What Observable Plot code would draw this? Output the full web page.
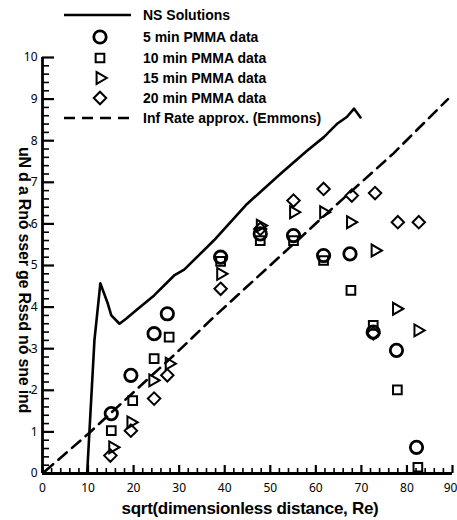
<!DOCTYPE html>
<html>
<head>
<meta charset="utf-8">
<script src="https://cdn.jsdelivr.net/npm/d3@7"></script>
<script src="https://cdn.jsdelivr.net/npm/@observablehq/plot@0.6"></script>
<style>
  body { margin: 0; background: #fff; }
</style>
</head>
<body>
<div id="chart"></div>
<script>
// Navier–Stokes solution curve
const nsX = [9.8, 11.4, 12.7, 14.35, 15.1, 16.9, 18.35, 20.5, 24.5, 28.9, 31.1, 37.6, 44.9, 52.2, 58.0, 61.7, 64.6, 66.8, 68.4, 69.8];
const nsY = [0, 3.2, 4.57, 4.08, 3.8, 3.6, 3.72, 3.92, 4.28, 4.76, 4.9, 5.6, 6.48, 7.2, 7.75, 8.08, 8.4, 8.57, 8.77, 8.56];

// Infinite-rate approximation (Emmons)
const emX = [0.5, 10, 29.6, 37.6, 63.9, 77, 89];
const emY = [0.05, 0.95, 2.92, 3.76, 6.4, 7.69, 9.0];

// PMMA measurements
const pmma5X = [15.1, 19.4, 24.5, 27.4, 39.1, 47.8, 55.1, 61.7, 67.5, 72.6, 77.7, 82.1];
const pmma5Y = [1.44, 2.36, 3.36, 3.84, 5.2, 5.76, 5.72, 5.24, 5.28, 3.4, 2.96, 0.63];
const pmma10X = [15.1, 19.8, 24.5, 27.8, 39.1, 47.8, 55.1, 61.7, 67.7, 72.6, 77.9, 82.4];
const pmma10Y = [1.03, 1.75, 2.76, 3.28, 5.1, 5.6, 5.6, 5.12, 4.4, 3.56, 2.01, 0.15];
const pmma15X = [15.4, 19.4, 24.2, 27.8, 39.1, 47.8, 55.1, 61.7, 67.6, 73.0, 77.7, 82.4];
const pmma15Y = [0.63, 1.23, 2.24, 2.64, 4.8, 5.96, 6.28, 6.28, 6.04, 5.36, 3.96, 3.44];
const pmma20X = [14.9, 19.4, 24.5, 27.4, 39.1, 47.8, 55.1, 61.7, 67.9, 72.6, 73.0, 78.0, 82.6];
const pmma20Y = [0.43, 1.03, 1.8, 2.36, 4.44, 5.88, 6.56, 6.84, 6.68, 3.37, 6.74, 6.04, 6.04];

// Axis ticks and labels
const xMajor = [0, 10, 20, 30, 40, 50, 60, 70, 80, 90];
const yMajor = [0, 1, 2, 3, 4, 5, 6, 7, 8, 9, 10];
const xMinor = [2, 4, 6, 8, 12, 14, 16, 18, 22, 24, 26, 28, 32, 34, 36, 38, 42, 44, 46, 48,
  52, 54, 56, 58, 62, 64, 66, 68, 72, 74, 76, 78, 82, 84, 86, 88];
const yMinor = [0.2, 0.4, 0.6, 0.8, 1.2, 1.4, 1.6, 1.8, 2.2, 2.4, 2.6, 2.8, 3.2, 3.4, 3.6, 3.8,
  4.2, 4.4, 4.6, 4.8, 5.2, 5.4, 5.6, 5.8, 6.2, 6.4, 6.6, 6.8, 7.2, 7.4, 7.6, 7.8,
  8.2, 8.4, 8.6, 8.8, 9.2, 9.4, 9.6, 9.8];

const xTitle = "sqrt(dimensionless distance, Re)";
const yTitle = "uN d a Rnó sser ge Rssd nó sne ind";

const legendLabels = ["NS Solutions", "5 min PMMA data", "10 min PMMA data", "15 min PMMA data", "20 min PMMA data", "Inf Rate approx. (Emmons)"];

const pts = (xs, ys) => xs.map((x, i) => ({x, y: ys[i]}));

const W = 457, H = 520;
const M = {left: 42, right: 5, top: 57, bottom: 47};
const xDomain = [0, 90], yDomain = [0, 10];
// data units per pixel, so tick lengths can be given in pixels
const xPerPx = (xDomain[1] - xDomain[0]) / (W - M.left - M.right);
const yPerPx = (yDomain[1] - yDomain[0]) / (H - M.top - M.bottom);

const symStyle = {
  circle: {symbol: "circle", r: 6.2, strokeWidth: 2.8},
  square: {symbol: "square", r: 4.9, strokeWidth: 2},
  triangle: {symbol: "triangle", r: 4.4, strokeWidth: 2, rotate: 90},
  diamond: {symbol: "diamond2", r: 5.6, strokeWidth: 2}
};

// inward ticks as short rules starting on the axis lines
const xTick = (values, len, sw) => Plot.ruleX(values, {x: d => d, y1: yDomain[0], y2: yDomain[0] + len * yPerPx, stroke: "black", strokeWidth: sw});
const yTick = (values, len, sw) => Plot.ruleY(values, {y: d => d, x1: xDomain[0], x2: xDomain[0] + len * xPerPx, stroke: "black", strokeWidth: sw});

const chart = Plot.plot({
  width: W,
  height: H,
  marginLeft: M.left,
  marginRight: M.right,
  marginTop: M.top,
  marginBottom: M.bottom,
  x: {domain: xDomain},
  y: {domain: yDomain},
  marks: [
    // tick labels
    Plot.axisX(xMajor.slice(0, -1), {anchor: "bottom", tickSize: 0, tickPadding: 10, fontSize: 12, label: null, tickFormat: d => d}),
    Plot.axisX(xMajor.slice(-1), {anchor: "bottom", tickSize: 0, tickPadding: 10, fontSize: 12, label: null, tickFormat: d => d, dx: -2}),
    Plot.axisY(yMajor, {anchor: "left", tickSize: 0, tickPadding: 5, fontSize: 12, label: null, tickFormat: d => d}),
    // curves
    Plot.line(pts(emX, emY), {x: "x", y: "y", stroke: "black", strokeWidth: 2.6, strokeDasharray: "11,7"}),
    Plot.line(pts(nsX, nsY), {x: "x", y: "y", stroke: "black", strokeWidth: 2.6}),
    // data
    Plot.dot(pts(pmma20X, pmma20Y), {x: "x", y: "y", stroke: "black", fill: "none", ...symStyle.diamond}),
    Plot.dot(pts(pmma15X, pmma15Y), {x: "x", y: "y", stroke: "black", fill: "none", ...symStyle.triangle}),
    Plot.dot(pts(pmma10X, pmma10Y), {x: "x", y: "y", stroke: "black", fill: "none", ...symStyle.square}),
    Plot.dot(pts(pmma5X, pmma5Y), {x: "x", y: "y", stroke: "black", fill: "none", ...symStyle.circle}),
    // inward ticks
    xTick(xMajor, 8, 2.2),
    xTick(xMinor, 5, 1.6),
    yTick(yMajor, 12, 2.2),
    yTick(yMinor, 7, 1.6),
    // axis lines
    Plot.ruleX([0], {stroke: "black", strokeWidth: 2.8}),
    Plot.ruleY([0], {stroke: "black", strokeWidth: 2.8})
  ]
});

document.getElementById("chart").appendChild(chart);

const svg = d3.select(chart);
const font = "Liberation Sans, Arial, sans-serif";

// axis titles
svg.append("text")
  .attr("x", 250).attr("y", 514)
  .attr("text-anchor", "middle")
  .attr("font-family", font)
  .attr("font-size", 17).attr("font-weight", "bold")
  .attr("letter-spacing", -0.3)
  .text(xTitle);

svg.append("text")
  .attr("transform", "translate(19,280) rotate(90)")
  .attr("text-anchor", "middle")
  .attr("font-family", font)
  .attr("font-size", 16).attr("font-weight", "bold")
  .attr("letter-spacing", -0.2)
  .text(yTitle);

// legend
const leg = svg.append("g");
const rowY = [15, 37, 58, 78, 98, 118];
const symX = 100, lineX0 = 64, lineX1 = 131, textX = 143;
const symbolOf = {circle: d3.symbolCircle, square: d3.symbolSquare, triangle: d3.symbolTriangle, diamond2: d3.symbolDiamond2};

leg.append("line").attr("x1", lineX0).attr("x2", lineX1).attr("y1", rowY[0]).attr("y2", rowY[0])
  .attr("stroke", "black").attr("stroke-width", 2.6);
leg.append("line").attr("x1", lineX0).attr("x2", lineX1).attr("y1", rowY[5]).attr("y2", rowY[5])
  .attr("stroke", "black").attr("stroke-width", 2.6).attr("stroke-dasharray", "11,7");

["circle", "square", "triangle", "diamond"].forEach((k, i) => {
  const s = symStyle[k];
  leg.append("path")
    .attr("d", d3.symbol(symbolOf[s.symbol], Math.PI * s.r * s.r)())
    .attr("transform", `translate(${symX},${rowY[i + 1]}) rotate(${s.rotate || 0})`)
    .attr("fill", "none").attr("stroke", "black").attr("stroke-width", s.strokeWidth);
});

legendLabels.forEach((t, i) => {
  leg.append("text")
    .attr("x", textX).attr("y", rowY[i] + 5)
    .attr("text-anchor", "start")
    .attr("font-family", font)
    .attr("font-size", 14).attr("font-weight", "bold")
    .text(t);
});
</script>
</body>
</html>
